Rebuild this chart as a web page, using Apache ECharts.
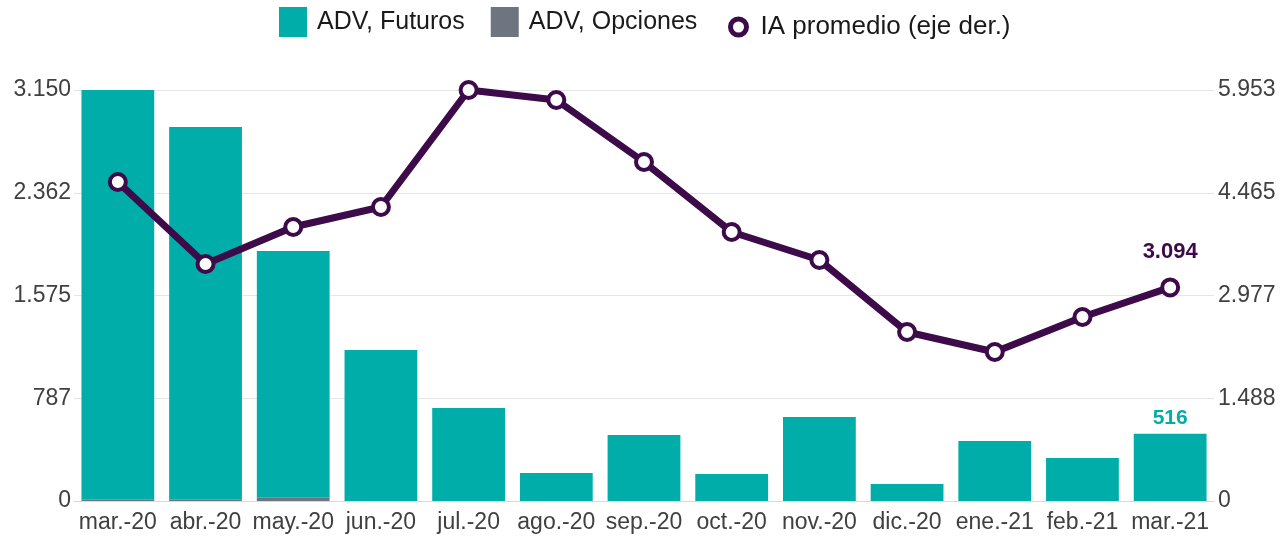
<!DOCTYPE html>
<html>
<head>
<meta charset="utf-8">
<script src="https://cdn.jsdelivr.net/npm/echarts@6/dist/echarts.min.js"></script>
<style>
  html, body { margin: 0; padding: 0; background: #fff; }
  #chart { width: 1284px; height: 558px; }
</style>
</head>
<body>
<div id="chart"></div>
<script>
// datos
const months = ['mar.-20', 'abr.-20', 'may.-20', 'jun.-20', 'jul.-20', 'ago.-20', 'sep.-20',
  'oct.-20', 'nov.-20', 'dic.-20', 'ene.-21', 'feb.-21', 'mar.-21'];
const advFuturos = [3140, 2856, 1891, 1157, 713, 215, 506, 207, 644, 130, 460, 330, 516];
const advOpciones = [10, 10, 25, 0, 0, 0, 0, 0, 0, 0, 0, 0, 0];
const iaPromedio = [4620, 3433, 3969, 4258, 5953, 5808, 4910, 3896, 3491, 2448, 2158, 2665, 3094];
const leftTicks = ['0', '787', '1.575', '2.362', '3.150'];
const rightTicks = ['0', '1.488', '2.977', '4.465', '5.953'];

const teal = '#00ADA8';
const grey = '#6E7580';
const purple = '#3D0A4A';
const txt = '#404040';
const font = 'Liberation Sans';

function fmt(v) {
  return String(Math.round(v)).replace(/\B(?=(\d{3})+(?!\d))/g, '.');
}

const chart = echarts.init(document.getElementById('chart'));

const option = {
  animation: false,
  textStyle: { fontFamily: font },
  legend: [
    {
      top: 7,
      left: 279,
      padding: 0,
      itemWidth: 28,
      itemHeight: 30,
      itemGap: 26,
      textStyle: { fontSize: 25, color: '#1a1a1a', fontFamily: font, padding: [3, 0, 0, 5] },
      data: [
        { name: 'ADV, Futuros', icon: 'rect' },
        { name: 'ADV, Opciones', icon: 'rect' }
      ]
    },
    {
      top: 14,
      left: 728,
      padding: 0,
      itemWidth: 30,
      itemHeight: 16,
      textStyle: { fontSize: 26, color: '#1a1a1a', fontFamily: font, padding: [3, 0, 0, 2] },
      data: [
        { name: 'IA promedio (eje der.)', icon: 'circle',
          itemStyle: { color: '#fff', borderColor: purple, borderWidth: 5 } }
      ]
    }
  ],
  grid: { left: 74, right: 70, top: 90, bottom: 57 },
  xAxis: {
    type: 'category',
    data: months,
    axisTick: { show: false },
    axisLine: { lineStyle: { color: '#d9d9d9' } },
    axisLabel: { color: txt, fontSize: 23, margin: 10, interval: 0 }
  },
  yAxis: [
    {
      type: 'value',
      min: 0,
      max: 3150,
      interval: 787.5,
      axisLine: { show: false },
      axisTick: { show: false },
      splitLine: { lineStyle: { color: '#e6e6e6' } },
      axisLabel: { color: txt, fontSize: 23, margin: 3, formatter: (v, i) => leftTicks[i] }
    },
    {
      type: 'value',
      min: 0,
      max: 5953,
      interval: 1488.25,
      axisLine: { show: false },
      axisTick: { show: false },
      splitLine: { show: false },
      axisLabel: { color: txt, fontSize: 23, margin: 4, formatter: (v, i) => rightTicks[i] }
    }
  ],
  series: [
    {
      name: 'ADV, Opciones',
      type: 'bar',
      stack: 'adv',
      barCategoryGap: '17%',
      itemStyle: { color: grey },
      data: advOpciones
    },
    {
      name: 'ADV, Futuros',
      type: 'bar',
      stack: 'adv',
      barCategoryGap: '17%',
      itemStyle: { color: teal },
      data: advFuturos.map((v, i) => i === advFuturos.length - 1
        ? { value: v, label: { show: true, position: 'top', distance: 5, color: teal,
            fontSize: 21, fontWeight: 'bold', formatter: p => fmt(p.value) } }
        : v)
    },
    {
      name: 'IA promedio (eje der.)',
      type: 'line',
      yAxisIndex: 1,
      symbol: 'circle',
      symbolSize: 16,
      lineStyle: { color: purple, width: 7 },
      itemStyle: { color: '#fff', borderColor: purple, borderWidth: 4 },
      z: 5,
      data: iaPromedio.map((v, i) => i === iaPromedio.length - 1
        ? { value: v, label: { show: true, position: 'top', distance: 14, color: purple,
            fontSize: 22, fontWeight: 'bold', formatter: p => fmt(p.value) } }
        : v)
    }
  ]
};

chart.setOption(option);
</script>
</body>
</html>
